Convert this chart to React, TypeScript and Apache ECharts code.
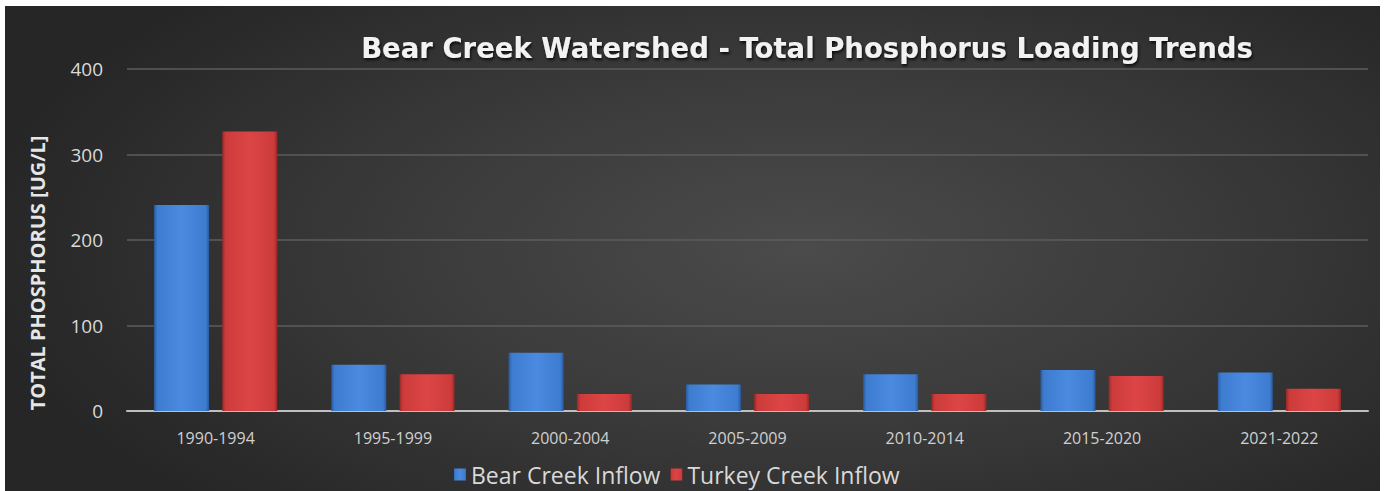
import React, { useEffect, useRef } from "react";
import * as echarts from "echarts";

const categories = ["1990-1994", "1995-1999", "2000-2004", "2005-2009", "2010-2014", "2015-2020", "2021-2022"];
const bearCreek = [241, 54, 68, 31, 43, 48, 45];
const turkeyCreek = [327, 43, 20, 20, 20, 41, 26];
const seriesNames = ["Bear Creek Inflow", "Turkey Creek Inflow"];
const titleText = "Bear Creek Watershed - Total Phosphorus Loading Trends";
const yAxisTitle = "TOTAL PHOSPHORUS [UG/L]";

const FONT = "'Open Sans', 'Noto Sans', sans-serif";

function barColor(light: string, base: string, dark: string) {
  return new echarts.graphic.LinearGradient(0, 0, 1, 0, [
    { offset: 0, color: dark },
    { offset: 0.06, color: base },
    { offset: 0.5, color: light },
    { offset: 0.94, color: base },
    { offset: 1, color: dark },
  ]);
}

export default function App() {
  const ref = useRef<HTMLDivElement>(null);
  useEffect(() => {
    document.body.style.margin = "0";
    const chart = echarts.init(ref.current!, null, { renderer: "svg" });
    chart.setOption({
      animation: false,
      backgroundColor: "transparent",
      title: {
        text: titleText,
        left: 797,
        top: 23,
        textAlign: "center",
        textStyle: {
          color: "#f2f2f2",
          fontFamily: "'DejaVu Sans', sans-serif",
          fontWeight: "bold",
          fontSize: 27.5,
          textShadowColor: "rgba(0,0,0,0.8)",
          textShadowBlur: 3,
          textShadowOffsetX: 1,
          textShadowOffsetY: 2,
        },
      },
      legend: {
        data: seriesNames,
        left: 444,
        top: 452,
        itemWidth: 12,
        itemHeight: 12,
        itemGap: 10,
        icon: "rect",
        textStyle: { color: "#d9d9d9", fontFamily: FONT, fontSize: 23 },
      },
      grid: { left: 122, right: 12, top: 63, bottom: 80 },
      xAxis: {
        type: "category",
        data: categories,
        axisLine: { lineStyle: { color: "#bfbfbf", width: 2 } },
        axisTick: { show: false },
        axisLabel: { color: "#d0d0d0", fontFamily: FONT, fontSize: 16, margin: 19 },
      },
      yAxis: {
        type: "value",
        min: 0,
        max: 400,
        interval: 100,
        axisLine: { show: false },
        axisTick: { show: false },
        axisLabel: { color: "#d9d9d9", fontFamily: FONT, fontSize: 19, margin: 24 },
        splitLine: { lineStyle: { color: "#5c5c5c", width: 1.5 } },
      },
      graphic: [
        {
          type: "text",
          x: 32,
          y: 267,
          rotation: Math.PI / 2,
          style: {
            text: yAxisTitle,
            fill: "#e6e6e6",
            font: `bold 20px ${FONT}`,
            textAlign: "center",
            textVerticalAlign: "middle",
          },
        },
      ],
      series: [
        {
          name: seriesNames[0],
          type: "bar",
          data: bearCreek,
          barWidth: 55,
          barGap: "24%",
          itemStyle: { color: barColor("#4a8ae0", "#3d7ccf", "#2a5a9e") },
        },
        {
          name: seriesNames[1],
          type: "bar",
          data: turkeyCreek,
          barWidth: 55,
          itemStyle: { color: barColor("#dd4545", "#cc3b3b", "#962828") },
        },
      ],
    });
    return () => chart.dispose();
  }, []);
  return (
    <div style={{ position: "absolute", left: 0, top: 0, width: 1387, height: 491, background: "#ffffff" }}>
      <div
        ref={ref}
        style={{
          position: "absolute",
          left: 5,
          top: 6,
          width: 1375,
          height: 485,
          background: "radial-gradient(ellipse 60% 75% at 58% 50%, #4b4b4b 0%, #3a3a3a 50%, #262626 100%)",
        }}
      />
    </div>
  );
}
